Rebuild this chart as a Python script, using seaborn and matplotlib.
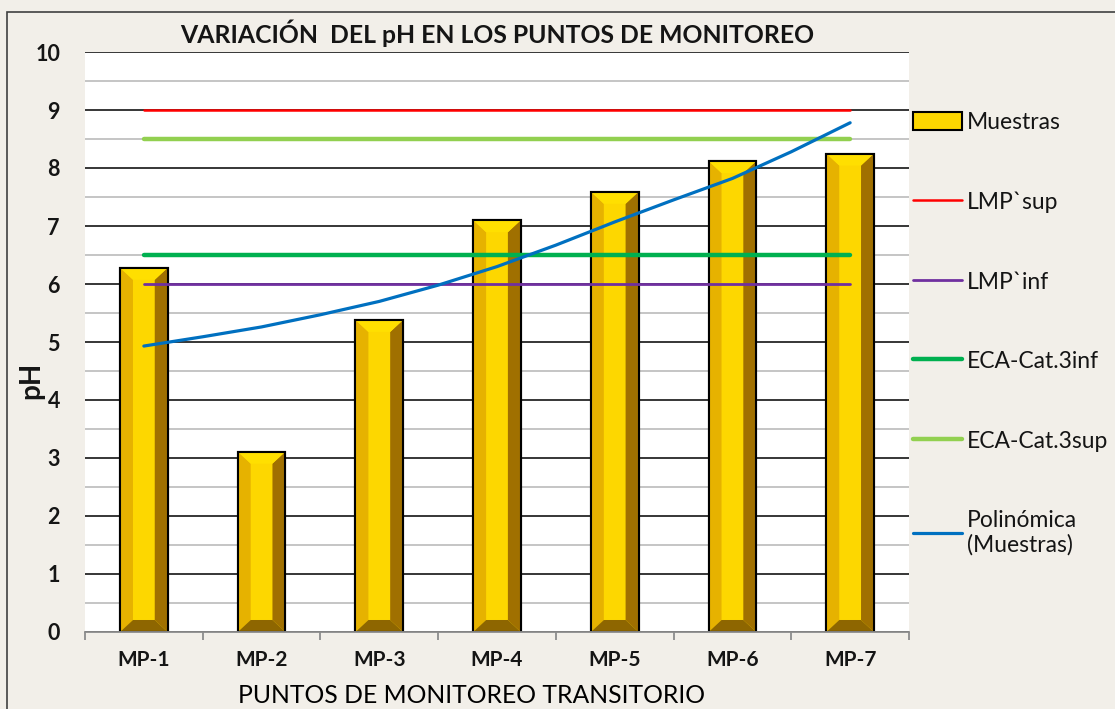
import numpy as np
import pandas as pd
import seaborn as sns
import matplotlib.pyplot as plt
from matplotlib.patches import Rectangle, Patch
from matplotlib.lines import Line2D

# data
puntos = ["MP-1", "MP-2", "MP-3", "MP-4", "MP-5", "MP-6", "MP-7"]
muestras = [6.28, 3.11, 5.38, 7.10, 7.59, 8.12, 8.25]
lmp_sup = [9, 9, 9, 9, 9, 9, 9]
lmp_inf = [6, 6, 6, 6, 6, 6, 6]
eca_inf = [6.5, 6.5, 6.5, 6.5, 6.5, 6.5, 6.5]
eca_sup = [8.5, 8.5, 8.5, 8.5, 8.5, 8.5, 8.5]
# polynomial trend line, read at every half category step
trend_pos = [0, 0.5, 1, 1.5, 2, 2.5, 3, 3.5, 4, 4.5, 5, 5.5, 6]
trend_val = [4.93, 5.09, 5.26, 5.47, 5.70, 5.98, 6.30, 6.67, 7.07, 7.45, 7.82, 8.28, 8.78]

BG = "#F2EFE9"
GOLD = "#FDD700"
TXT = "#151515"

sns.set_theme(style="white")
plt.rcParams["font.family"] = ["Lato", "DejaVu Sans"]

fig = plt.figure(figsize=(11.15, 7.09), dpi=100, facecolor=BG)
ax = fig.add_axes([85 / 1115, 77 / 709, 824 / 1115, 580 / 709])
ax.set_facecolor("white")

# frame of the chart area
fig.patches.append(Rectangle((7 / 1115, -0.05), 1.1, (709 - 12) / 709 + 0.05,
                             transform=fig.transFigure, fill=False,
                             ec="#404040", lw=1.2, zorder=0))

df = pd.DataFrame({"punto": puntos, "pH": muestras})
sns.barplot(data=df, x="punto", y="pH", color=GOLD, saturation=1, width=0.405,
            edgecolor="black", linewidth=1.5, ax=ax, zorder=3)

# bevel look on the bars
bx, by = 0.11, 0.207
for p in list(ax.patches):
    x0, w, h = p.get_x(), p.get_width(), p.get_height()
    ax.fill([x0, x0 + bx, x0 + bx, x0], [0, by, h - by, h], color="#E6B200", zorder=3.1, lw=0)
    ax.fill([x0 + w, x0 + w - bx, x0 + w - bx, x0 + w], [0, by, h - by, h], color="#A07000", zorder=3.1, lw=0)
    ax.fill([x0, x0 + w, x0 + w - bx, x0 + bx], [h, h, h - by, h - by], color="#FFDF00", zorder=3.2, lw=0)
    ax.fill([x0, x0 + w, x0 + w - bx, x0 + bx], [0, 0, by, by], color="#8E6600", zorder=3.2, lw=0)
    ax.add_patch(Rectangle((x0, 0), w, h, fill=False, ec="black", lw=1.5, zorder=3.3))

pos = np.arange(len(puntos))
line_styles = [
    (lmp_sup, "#FF0000", 1.8, "LMP`sup"),
    (lmp_inf, "#7030A0", 2.0, "LMP`inf"),
    (eca_inf, "#00B050", 3.2, "ECA-Cat.3inf"),
    (eca_sup, "#92D050", 3.2, "ECA-Cat.3sup"),
]
for vals, col, lw, lab in line_styles:
    sns.lineplot(x=pos, y=vals, color=col, lw=lw, ax=ax, zorder=4,
                 solid_capstyle="round")
sns.lineplot(x=trend_pos, y=trend_val, color="#0070C0", lw=2.3, ax=ax, zorder=5,
             solid_capstyle="round")

# axes styling
ax.set_xlim(-0.5, len(puntos) - 0.5)
ax.set_ylim(0, 10)
ax.set_yticks(range(0, 11))
ax.set_yticks(np.arange(0.5, 10, 0.5), minor=True)
ax.set_xticks(np.arange(-0.5, len(puntos), 1), minor=True)
ax.grid(axis="y", which="major", color="black", lw=1.1)
ax.grid(axis="y", which="minor", color="#C0C0C0", lw=1.3)
ax.set_axisbelow(True)
for s in ["left", "right", "top"]:
    ax.spines[s].set_visible(False)
ax.spines["bottom"].set_color("#8C8C8C")
ax.spines["bottom"].set_linewidth(1.3)
ax.spines["bottom"].set_zorder(6)
ax.tick_params(axis="y", which="both", length=0, pad=18, labelsize=15.5)
ax.tick_params(axis="x", which="major", length=0, pad=13, labelsize=15)
ax.tick_params(axis="x", which="minor", length=6, width=1.3, color="#8C8C8C",
               direction="out", bottom=True)
for t in ax.get_xticklabels() + ax.get_yticklabels():
    t.set_fontweight("bold")
    t.set_color(TXT)

ax.set_title("VARIACIÓN  DEL pH EN LOS PUNTOS DE MONITOREO", fontsize=17.8,
             fontweight="bold", color=TXT, y=1.0155, pad=0)
ax.set_ylabel("pH", fontsize=20, fontweight="bold", color=TXT)
ax.yaxis.set_label_coords(-0.05, 0.433)
ax.set_xlabel("PUNTOS DE MONITOREO TRANSITORIO", fontsize=17.8, color="#000000",
              va="top")
ax.xaxis.set_label_coords(0.4685, -0.09)

# legend
handles = [Patch(facecolor=GOLD, edgecolor="black", lw=1.5)]
labels = ["Muestras"]
for vals, col, lw, lab in line_styles:
    handles.append(Line2D([], [], color=col, lw=lw))
    labels.append(lab)
handles.append(Line2D([], [], color="#0070C0", lw=2.3))
labels.append("Polinómica\n(Muestras)")
fig.legend(handles, labels, loc="upper left", bbox_to_anchor=(913 / 1115, (709 - 112) / 709),
           frameon=False, fontsize=16.5, borderpad=0, borderaxespad=0,
           handlelength=2.15, handleheight=0.85, handletextpad=0.2,
           labelspacing=2.55, labelcolor=TXT)

fig.savefig("out.png", dpi=100, facecolor=BG)
